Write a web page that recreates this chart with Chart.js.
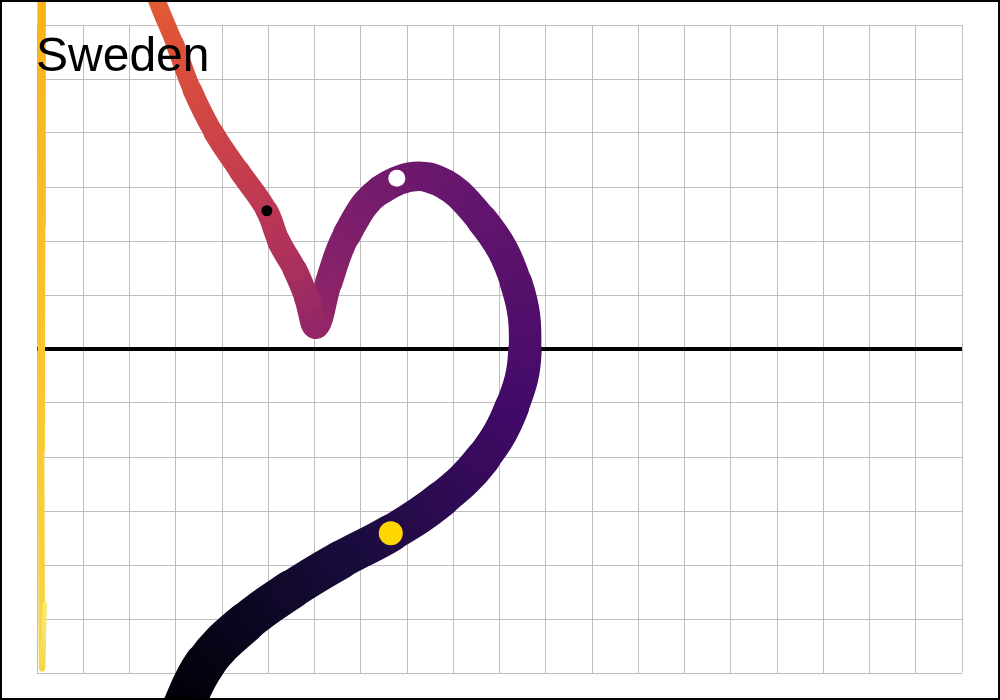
<!DOCTYPE html>
<html>
<head>
<meta charset="utf-8">
<script src="https://cdn.jsdelivr.net/npm/chart.js@4.4.1/dist/chart.umd.min.js"></script>
<style>
  html, body { margin: 0; padding: 0; background: #fff; }
  #wrap { width: 1000px; height: 700px; }
</style>
</head>
<body>
<div id="wrap"><canvas id="chart" width="1000" height="700"></canvas></div>
<script>
// one point per time step, oldest first
const pathX = [3.05, 3.63, 4.50, 5.49, 6.55, 7.65, 8.74, 9.64, 10.27, 10.55,
               10.36, 9.62, 8.50, 7.42, 6.70, 6.31, 6.03, 5.84, 5.58, 5.23,
               4.97, 4.37, 3.81, 3.35, 2.98, 2.59, 2.38, 2.12, 1.69, 1.15,
               0.63, 0.28, 0.13, 0.10, 0.10, 0.09, 0.11, 0.14, 0.17];
const pathY = [-6.83, -5.83, -5.07, -4.46, -3.91, -3.41, -2.78, -2.02, -1.07, -0.02,
               1.22, 2.39, 3.17, 2.94, 2.12, 1.24, 0.43, 0.93, 1.46, 1.99,
               2.56, 3.30, 4.02, 4.81, 5.65, 6.46, 7.02, 7.61, 8.09, 8.31,
               8.28, 7.94, 7.39, 6.46, 2.30, -1.87, -5.91, -5.39, -4.72];

// highlighted points
const markerX = [4.97, 7.78, 7.65];
const markerY = [2.56, 3.16, -3.41];

const xRange = [0, 20];
const yRange = [-6, 6];
const title = 'Sweden';

const INFERNO = ['#000004', '#160b39', '#420a68', '#6a176e', '#932667', '#bc3754',
                 '#dd513a', '#f37819', '#fca50a', '#f6d746', '#fcffa4'];
const T_STEP = 0.025;

function hexRgb(h) {
    return [1, 3, 5].map(i => parseInt(h.substr(i, 2), 16));
}

function inferno(t) {
    t = Math.min(1, Math.max(0, t));
    const p = t * 10;
    const i = Math.min(9, Math.floor(p));
    const f = p - i;
    const a = hexRgb(INFERNO[i]), b = hexRgb(INFERNO[i + 1]);
    return 'rgb(' + a.map((v, k) => Math.round(v + (b[k] - v) * f)).join(',') + ')';
}

const widthAt = t => 42 - 40 * t;

const canvas = document.getElementById('chart');
const c2d = canvas.getContext('2d');

const framePlugin = {
    id: 'frame',
    beforeDraw(chart) {
        const ctx = chart.ctx;
        ctx.save();
        ctx.fillStyle = '#ffffff';
        ctx.fillRect(0, 0, chart.width, chart.height);
        ctx.restore();
    },
    afterDraw(chart) {
        const ctx = chart.ctx;
        ctx.save();
        ctx.strokeStyle = '#000000';
        ctx.lineWidth = 2;
        ctx.strokeRect(1, 1, chart.width - 2, chart.height - 2);
        ctx.restore();
    }
};

const titlePlugin = {
    id: 'cornerTitle',
    afterDatasetsDraw(chart) {
        const ctx = chart.ctx;
        ctx.save();
        ctx.fillStyle = '#000000';
        ctx.font = '48px "Liberation Sans", Arial, sans-serif';
        ctx.textBaseline = 'alphabetic';
        ctx.fillText(title, chart.chartArea.left - 1, 71);
        ctx.restore();
    }
};

new Chart(canvas, {
    type: 'scatter',
    data: {
        datasets: [
            {
                data: xRange.map(x => ({ x: x, y: 0 })),
                showLine: true,
                borderColor: '#000000',
                borderWidth: 4,
                borderCapStyle: 'round',
                pointRadius: 0,
                order: 3
            },
            {
                data: pathX.map((x, i) => ({ x: x, y: pathY[i] })),
                showLine: true,
                tension: 0.4,
                clip: false,
                pointRadius: 0,
                borderCapStyle: 'round',
                borderJoinStyle: 'round',
                borderColor: inferno(0),
                segment: {
                    borderColor: ctx => {
                        const t0 = ctx.p0DataIndex * T_STEP;
                        const t1 = ctx.p1DataIndex * T_STEP;
                        if (!isFinite(ctx.p0.x) || !isFinite(ctx.p1.x)) return inferno(t0);
                        const g = c2d.createLinearGradient(ctx.p0.x, ctx.p0.y, ctx.p1.x, ctx.p1.y);
                        g.addColorStop(0, inferno(t0));
                        g.addColorStop(1, inferno(t1));
                        return g;
                    },
                    borderWidth: ctx => widthAt((ctx.p0DataIndex + 0.5) * T_STEP)
                },
                order: 2
            },
            {
                data: markerX.map((x, i) => ({ x: x, y: markerY[i] })),
                showLine: false,
                pointRadius: [5.5, 8.5, 12],
                pointBackgroundColor: ['#000000', '#ffffff', '#ffd700'],
                pointBorderWidth: 0,
                clip: false,
                order: 1
            }
        ]
    },
    options: {
        responsive: false,
        animation: false,
        devicePixelRatio: 1,
        layout: {
            autoPadding: false,
            padding: { left: 37, right: 38, top: 25, bottom: 27 }
        },
        plugins: {
            legend: { display: false },
            tooltip: { enabled: false }
        },
        scales: {
            x: {
                type: 'linear',
                min: xRange[0],
                max: xRange[1],
                ticks: { display: false, stepSize: 1 },
                grid: { color: '#bebebe', lineWidth: 1, drawTicks: false },
                border: { display: false }
            },
            y: {
                type: 'linear',
                min: yRange[0],
                max: yRange[1],
                ticks: { display: false, stepSize: 1 },
                grid: { color: '#bebebe', lineWidth: 1, drawTicks: false },
                border: { display: false }
            }
        }
    },
    plugins: [framePlugin, titlePlugin]
});
</script>
</body>
</html>
